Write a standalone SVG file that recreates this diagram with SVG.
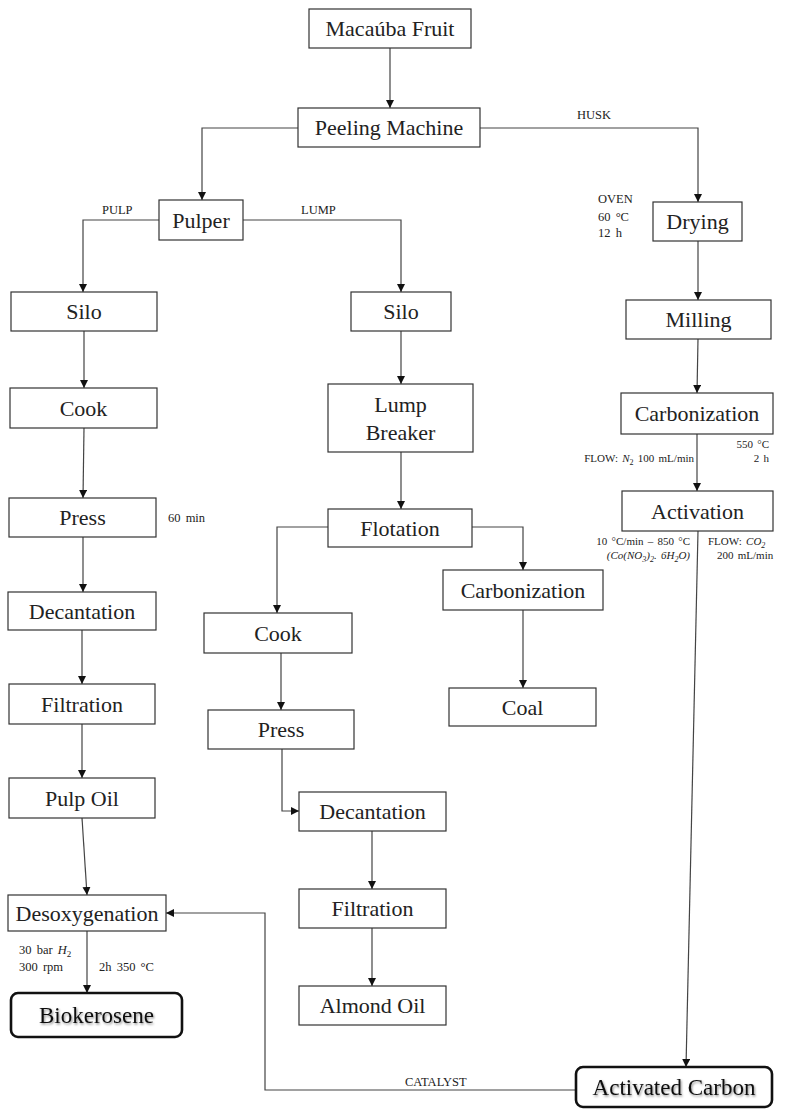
<svg xmlns="http://www.w3.org/2000/svg" width="790" height="1111" viewBox="0 0 790 1111">
<style>
.box{fill:#fff;stroke:#333;stroke-width:1.2}
.term{fill:#fff;stroke:#111;stroke-width:2.6}
.t{font-family:"Liberation Serif","Times New Roman",serif;font-size:22px;fill:#222;text-anchor:middle}
.tb{font-family:"Liberation Serif","Times New Roman",serif;font-size:23px;fill:#111;text-anchor:middle;filter:url(#sh)}
.s{font-family:"Liberation Serif","Times New Roman",serif;font-size:12.5px;fill:#222;word-spacing:2px}
.s2{font-family:"Liberation Serif","Times New Roman",serif;font-size:11px;fill:#222;word-spacing:1.5px}
.e{text-anchor:end}
.i{font-style:italic}
.c{fill:none;stroke:#444;stroke-width:1.2;marker-end:url(#ah)}
</style>
<defs>
<marker id="ah" markerUnits="userSpaceOnUse" markerWidth="9" markerHeight="8" refX="8" refY="4" orient="auto"><path d="M0,0 L8,4 L0,8 z" fill="#111"/></marker>
<filter id="sh" x="-10%" y="-20%" width="120%" height="150%"><feDropShadow dx="1" dy="1.5" stdDeviation="1" flood-color="#000" flood-opacity="0.45"/></filter>
</defs>
<g id="connectors">
<path class="c" d="M390,48 V108"/>
<path class="c" d="M298,128 H202 V200"/>
<path class="c" d="M480,128 H698 V202"/>
<path class="c" d="M159,220 H83 V292"/>
<path class="c" d="M243,220 H401 V292"/>
<path class="c" d="M84,331 V388"/>
<path class="c" d="M84,428 L83,498"/>
<path class="c" d="M83,537 L83,592"/>
<path class="c" d="M82,630 V684"/>
<path class="c" d="M82,724 V778"/>
<path class="c" d="M82,818 L87,895"/>
<path class="c" d="M87,931 V993"/>
<path class="c" d="M401,331 V384"/>
<path class="c" d="M401,452 V509"/>
<path class="c" d="M328,527 H277 V613"/>
<path class="c" d="M472,527 H523 V570"/>
<path class="c" d="M523,610 V688"/>
<path class="c" d="M281,653 V710"/>
<path class="c" d="M282,749 V811 H299"/>
<path class="c" d="M372,831 V889"/>
<path class="c" d="M372,928 V986"/>
<path class="c" d="M698,241 V300"/>
<path class="c" d="M698,339 L697,393"/>
<path class="c" d="M697,434 V491"/>
<path class="c" d="M698,531 L686,1067"/>
<path class="c" d="M576,1090 H265 V913 H166"/>
</g>
<g id="n-macauba"><rect class="box" x="309" y="9" width="162" height="39"/><text class="t" x="390" y="36">Macaúba Fruit</text></g>
<g id="n-peeling"><rect class="box" x="298" y="108" width="182" height="39"/><text class="t" x="389" y="135">Peeling Machine</text></g>
<g id="n-pulper"><rect class="box" x="159" y="200" width="84" height="40"/><text class="t" x="201" y="228">Pulper</text></g>
<g id="n-drying"><rect class="box" x="653" y="202" width="89" height="39"/><text class="t" x="697.5" y="229">Drying</text></g>
<g id="n-silo1"><rect class="box" x="11" y="292" width="146" height="39"/><text class="t" x="84" y="319">Silo</text></g>
<g id="n-cook1"><rect class="box" x="10" y="388" width="147" height="40"/><text class="t" x="83.5" y="416">Cook</text></g>
<g id="n-press1"><rect class="box" x="9" y="498" width="147" height="39"/><text class="t" x="82.5" y="525">Press</text></g>
<g id="n-decant1"><rect class="box" x="8" y="592" width="148" height="38"/><text class="t" x="82" y="619">Decantation</text></g>
<g id="n-filt1"><rect class="box" x="9" y="684" width="146" height="40"/><text class="t" x="82" y="712">Filtration</text></g>
<g id="n-pulpoil"><rect class="box" x="9" y="778" width="146" height="40"/><text class="t" x="82" y="806">Pulp Oil</text></g>
<g id="n-desox"><rect class="box" x="8" y="895" width="158" height="36"/><text class="t" x="87" y="921">Desoxygenation</text></g>
<g id="n-bio"><rect class="term" x="11" y="993" width="171" height="44" rx="7"/><text class="tb" x="96.5" y="1023">Biokerosene</text></g>
<g id="n-silo2"><rect class="box" x="351" y="292" width="100" height="39"/><text class="t" x="401" y="319">Silo</text></g>
<g id="n-lump"><rect class="box" x="328" y="384" width="145" height="68"/><text class="t" x="400.5" y="412">Lump</text><text class="t" x="400.5" y="440">Breaker</text></g>
<g id="n-flot"><rect class="box" x="328" y="509" width="144" height="38"/><text class="t" x="400" y="536">Flotation</text></g>
<g id="n-cook2"><rect class="box" x="204" y="613" width="148" height="40"/><text class="t" x="278" y="641">Cook</text></g>
<g id="n-press2"><rect class="box" x="208" y="710" width="146" height="39"/><text class="t" x="281" y="737">Press</text></g>
<g id="n-decant2"><rect class="box" x="299" y="792" width="147" height="39"/><text class="t" x="372.5" y="819">Decantation</text></g>
<g id="n-filt2"><rect class="box" x="299" y="889" width="147" height="39"/><text class="t" x="372.5" y="916">Filtration</text></g>
<g id="n-almond"><rect class="box" x="299" y="986" width="147" height="39"/><text class="t" x="372.5" y="1013">Almond Oil</text></g>
<g id="n-carb2"><rect class="box" x="443" y="570" width="160" height="40"/><text class="t" x="523" y="598">Carbonization</text></g>
<g id="n-coal"><rect class="box" x="449" y="688" width="147" height="38"/><text class="t" x="522.5" y="715">Coal</text></g>
<g id="n-milling"><rect class="box" x="626" y="300" width="145" height="39"/><text class="t" x="698.5" y="327">Milling</text></g>
<g id="n-carb1"><rect class="box" x="621" y="393" width="152" height="41"/><text class="t" x="697" y="421">Carbonization</text></g>
<g id="n-activ"><rect class="box" x="622" y="491" width="151" height="40"/><text class="t" x="697.5" y="519">Activation</text></g>
<g id="n-actcarb"><rect class="term" x="576" y="1067" width="196" height="40" rx="7"/><text class="tb" x="674" y="1095">Activated Carbon</text></g>
<g id="labels">
<text class="s" x="577" y="119">HUSK</text>
<text class="s" x="102" y="214">PULP</text>
<text class="s" x="301" y="214">LUMP</text>
<text class="s" x="598" y="203">OVEN</text>
<text class="s" x="598" y="221">60 °C</text>
<text class="s" x="598" y="237">12 h</text>
<text class="s" x="168" y="522">60 min</text>
<text class="s2 e" x="769" y="448">550 °C</text>
<text class="s2 e" x="769" y="462">2 h</text>
<text class="s2 e" x="694" y="462">FLOW: <tspan class="i">N</tspan><tspan font-size="8" dy="2.5">2</tspan><tspan dy="-2.5"> 100 mL/min</tspan></text>
<text class="s2 e" x="690" y="545">10 °C/min – 850 °C</text>
<text class="s2 e i" x="690" y="559">(Co(NO<tspan font-size="8" dy="2.5">3</tspan><tspan dy="-2.5">)</tspan><tspan font-size="8" dy="2.5">2</tspan><tspan dy="-2.5">. 6H</tspan><tspan font-size="8" dy="2.5">2</tspan><tspan dy="-2.5">O)</tspan></text>
<text class="s2" x="708" y="545">FLOW: <tspan class="i">CO</tspan><tspan class="i" font-size="8" dy="2.5">2</tspan></text>
<text class="s2" x="717" y="559">200 mL/min</text>
<text class="s" x="19" y="954">30 bar <tspan class="i">H</tspan><tspan font-size="9" dy="3">2</tspan></text>
<text class="s" x="19" y="971">300 rpm</text>
<text class="s" x="99" y="971">2h 350 °C</text>
<text class="s" x="405" y="1086">CATALYST</text>
</g>
</svg>
